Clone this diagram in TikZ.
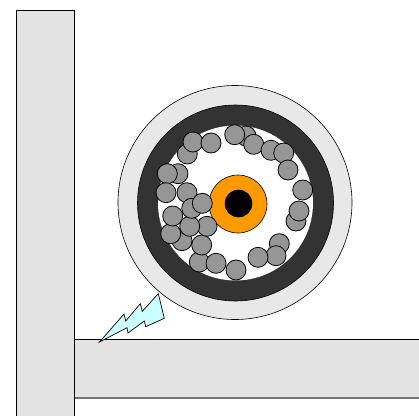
\documentclass[tikz,border=0pt]{standalone}
\usepackage{tikz}
\definecolor{sparkfill}{RGB}{204,255,255}
\definecolor{corefill}{RGB}{255,153,0}
\tikzset{
  wall/.style={draw=black,fill=black!11,line width=.8pt},
  shell/.style={circle,draw=black,inner sep=0pt,line width=.6pt},
  strand/.style={circle,draw=black,fill=black!41,inner sep=0pt,minimum size=20pt,line width=.8pt},
  bolt/.style={draw=black,fill=sparkfill,line width=.7pt,line join=miter},
}

\begin{document}
\begin{tikzpicture}[x=1pt,y=-1pt]
  \useasboundingbox (0,0) rectangle (419,415);
  \clip (0,0) rectangle (419,415);
  % walls
  \fill[black!11] (74,339.5) rectangle (419,398);
  \draw[black!55,line width=1.4pt] (74,398) -- (419,398);
  \draw[wall] (16.5,416) -- (16.5,10.5) -- (74.3,10.5) -- (74.3,416);
  \draw[line width=.8pt] (74.3,339.5) -- (420,339.5);
  % cable
  \node[shell,fill=black!9,minimum size=234pt] (jacket) at (235,202.5) {};
  \node[shell,fill=black!80,minimum size=196pt] (shield) at (235.5,203) {};
  \node[shell,fill=white,draw=none,minimum size=155pt] (gap) at (235.5,203) {};
  \node[shell,fill=corefill,minimum size=58pt] (core) at (238,204) {};
  \node[shell,fill=black,minimum size=27pt] (wire) at (238.5,203.5) {};
  % strands
  \foreach \x/\y in {187.3/154,193/142,211/143,178/173.7,167.3/173.7,166/192.7,187/192.7,
      246/136,234.7/134.7,253.7/144.3,271/150.3,283.7/153,288/170,302.7/190,296/221,299/211,
      279.3/243.7,276/255.7,258/257.3,236/270,199.3/262,216/263.3,201.7/245,182/240.7,
      170.7/233.7,172.7/216,207/226.3,189.7/226.3,191.7/208.3,202.3/203.3}
    \node[strand] at (\x,\y) {};
  % spark
  \draw[bolt] (99.5,342) -- (124,314) -- (125.7,321) -- (140.3,303.7) -- (142.3,311.3)
    -- (158.3,293.7) -- (164.3,318.3) -- (145.7,326.7) -- (144.3,321) -- (128,333)
    -- (127,327.7) -- cycle;
\end{tikzpicture}
\end{document}
